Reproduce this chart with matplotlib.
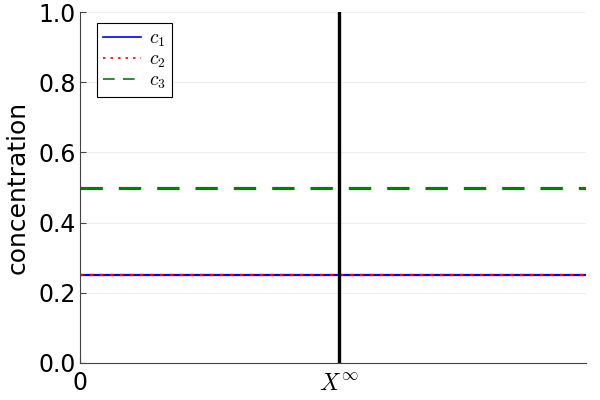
import numpy as np
import matplotlib.pyplot as plt

plt.rcParams['mathtext.fontset'] = 'cm'

# data
x_vals = [0.0, 1.0]
c1 = [0.25, 0.25]
c2 = [0.25, 0.25]
c3 = [0.5, 0.5]
x_inf = 0.512
y_ticks = [0.0, 0.2, 0.4, 0.6, 0.8, 1.0]

fig = plt.figure(figsize=(6, 4), dpi=100)
ax = fig.add_axes([80 / 600, 37 / 400, 506 / 600, 351 / 400])

ax.plot(x_vals, c1, color='blue', lw=1.6, label='$c_1$')
ax.plot(x_vals, c2, color='red', lw=1.6, ls=(0, (1.5, 3)), label='$c_2$')
ax.plot(x_vals, c3, color='green', lw=2.3, ls=(0, (7, 5)), label='$c_3$')
ax.axvline(x_inf, color='black', lw=2.4)

ax.set_xlim(0, 1)
ax.set_ylim(0, 1)
ax.set_yticks(y_ticks)
ax.set_yticklabels([f'{v:.1f}' for v in y_ticks])
ax.set_xticks([0, x_inf])
ax.set_xticklabels(['0', r'$X^{\infty}$'])
ax.set_ylabel('concentration', fontsize=18, labelpad=6)
ax.tick_params(labelsize=17, direction='in', length=4, color='#444444', pad=3)
ax.tick_params(axis='x', pad=6)
ax.grid(True, axis='y', color='#eeeeee', lw=0.8)
ax.set_axisbelow(True)
for s in ['top', 'right']:
    ax.spines[s].set_visible(False)
for s in ['left', 'bottom']:
    ax.spines[s].set_color('#444444')

leg = ax.legend(loc='upper left', fontsize=14, fancybox=False, edgecolor='black',
                framealpha=1, handlelength=2.0, handletextpad=0.4, borderpad=0.3,
                labelspacing=0.05, borderaxespad=0, bbox_to_anchor=(0.033, 0.97))
leg.get_frame().set_linewidth(0.8)
for ln in leg.get_lines():
    ln.set_linewidth(1.2)

fig.savefig('out.png', dpi=100)
